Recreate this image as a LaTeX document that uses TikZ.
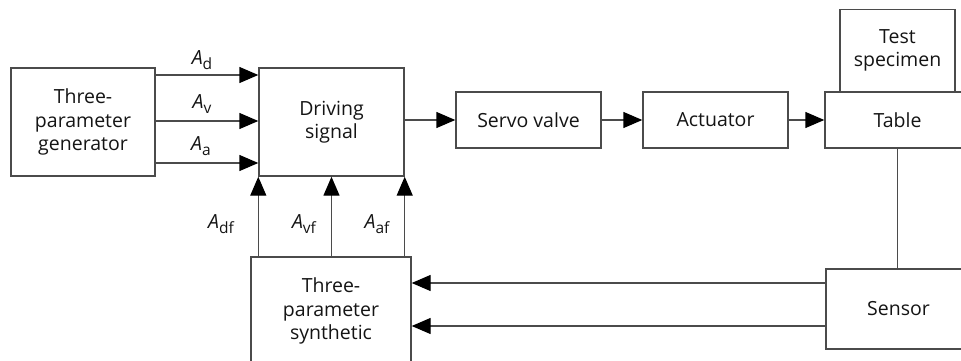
\documentclass[tikz,border=0pt]{standalone}
\usepackage{fontspec}
\setmainfont{Open Sans}
\usetikzlibrary{arrows.meta}
\definecolor{linec}{RGB}{75,75,75}
\definecolor{textc}{RGB}{20,20,20}
\newcommand\lab[2]{\textit{#1}\raisebox{-0.45ex}{\fontsize{15.5}{15.5}\selectfont #2}}
\tikzset{
  box/.style={draw=linec, line width=1.4pt, align=center, inner sep=0pt, text=textc,
    font=\fontsize{19.5}{23.5}\selectfont},
  arr/.style={draw=linec, line width=1.4pt, -{Triangle[length=19pt,width=16pt,fill=black,color=black]}},
  conn/.style={draw=linec, line width=1.4pt},
  lbl/.style={text=textc, font=\fontsize{19.5}{20}\selectfont, inner sep=0pt}
}
\begin{document}
\begin{tikzpicture}[x=1pt,y=-1pt]
\useasboundingbox (0,0) rectangle (961,361);
\node[box, minimum width=144, minimum height=108] (gen) at (83,122) {Three-\\parameter\\generator};
\node[box, minimum width=145, minimum height=108] (drv) at (331.5,122) {Driving\\signal};
\node[box, minimum width=145, minimum height=56] (servo) at (528.5,120) {Servo valve};
\node[box, minimum width=145, minimum height=56] (act) at (715.5,120) {Actuator};
\node[box, minimum width=145, minimum height=56] (table) at (897.5,120) {Table};
\node[box, minimum width=115, minimum height=82, anchor=south] (spec) at (897.5,92) {Test\\specimen};
\node[box, minimum width=145, minimum height=80] (sensor) at (898.5,309) {Sensor};
\node[box, minimum width=160, minimum height=108] (synth) at (331,311) {Three-\\parameter\\synthetic};
% generator -> driving signal
\draw[arr] (gen.east |- 0,75) -- (drv.west |- 0,75);
\draw[arr] (gen.east |- 0,121) -- (drv.west |- 0,121);
\draw[arr] (gen.east |- 0,163) -- (drv.west |- 0,163);
\node[lbl] (ld) at (202,60) {\lab{A}{d}};
\node[lbl] (lv) at (202,104) {\lab{A}{v}};
\node[lbl] (la) at (201,146) {\lab{A}{a}};
% feedback up arrows
\draw[arr] (drv.south west |- synth.north) -- (drv.south west);
\draw[arr] (drv.south |- synth.north) -- (drv.south);
\draw[arr] (drv.south east |- synth.north) -- (drv.south east);
\node[lbl] (ldf) at (221,224) {\lab{A}{df}};
\node[lbl] (lvf) at (304,224) {\lab{A}{vf}};
\node[lbl] (laf) at (377,224) {\lab{A}{af}};
% forward chain
\draw[arr] (drv.east |- servo.west) -- (servo.west);
\draw[arr] (servo.east) -- (act.west);
\draw[arr] (act.east) -- (table.west);
% table to sensor
\draw[conn] (table.south) -- (table.south |- sensor.north);
% sensor -> synthetic
\draw[arr] (sensor.west |- 0,283) -- (synth.east |- 0,283);
\draw[arr] (sensor.west |- 0,326) -- (synth.east |- 0,326);
\end{tikzpicture}
\end{document}
